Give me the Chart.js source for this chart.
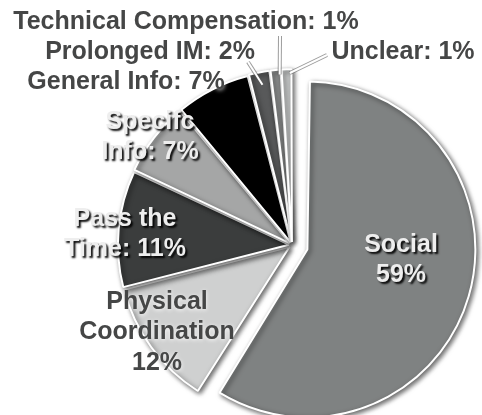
<!DOCTYPE html>
<html>
<head>
<meta charset="utf-8">
<script src="https://cdn.jsdelivr.net/npm/chart.js@4.4.1/dist/chart.umd.min.js"></script>
<style>
  body { margin: 0; background: #fff; }
  #wrap { width: 482px; height: 415px; position: relative; }
</style>
</head>
<body>
<div id="wrap"><canvas id="grafico"></canvas></div>
<script>
const categorias = ['Social', 'Physical Coordination', 'Pass the Time', 'Specific Info', 'General Info', 'Prolonged IM', 'Technical Compensation', 'Unclear'];
const porcentajes = [59, 12, 11, 7, 7, 2, 1, 1];
const etiquetas = [
  ['Social', '59%'],
  ['Physical', 'Coordination', '12%'],
  ['Pass the', 'Time: 11%'],
  ['Specifc', 'Info: 7%'],
  ['General Info: 7%'],
  ['Prolonged IM: 2%'],
  ['Technical Compensation: 1%'],
  ['Unclear: 1%']
];

const colores = ['#7f8282', '#cfd0d0', '#3b3d3d', '#a5a6a6', '#000000', '#58595a', '#8d8f8f', '#c6c8c8'];
// chart.js v4 divide el offset entre 4
const separacion = [64, 12, 12, 12, 12, 12, 12, 12];

// donde va cada etiqueta (centro del texto) y su estilo
const posEtiquetas = [
  { x: 401, y: 245, claro: true },
  { x: 157, y: 302, claro: false },
  { x: 125, y: 219, claro: true },
  { x: 150, y: 122, claro: true },
  { x: 126, y: 82, claro: false },
  { x: 150, y: 52, claro: false, linea: [248, 62], frac: 0.55, r: 163 },
  { x: 186, y: 22, claro: false, linea: [280, 36], frac: 0.85, r: 171 },
  { x: 403, y: 52, claro: false, linea: [327, 55], frac: 0.8, r: 172 }
];

// el offset tambien agranda la rebanada grande, se lo quitamos
const radioSocial = {
  id: 'radioSocial',
  afterDatasetUpdate(chart, args) {
    const arc = args.meta.data[0];
    if (arc) arc.outerRadius = arc.outerRadius - 18;
  }
};

const sombraPastel = {
  id: 'sombraPastel',
  beforeDatasetsDraw(chart) {
    const ctx = chart.ctx;
    ctx.save();
    ctx.shadowColor = 'rgba(0,0,0,0.6)';
    ctx.shadowBlur = 5;
    ctx.shadowOffsetX = 2;
    ctx.shadowOffsetY = 2;
  },
  afterDatasetsDraw(chart) {
    chart.ctx.restore();
  }
};

const textos = {
  id: 'textos',
  afterDraw(chart) {
    const ctx = chart.ctx;
    const arcos = chart.getDatasetMeta(0).data;
    ctx.save();
    // lineas guia para las rebanadas chicas
    posEtiquetas.forEach((p, i) => {
      if (!p.linea) return;
      const a = arcos[i];
      const ang = a.startAngle + (a.endAngle - a.startAngle) * p.frac;
      const x2 = a.x + Math.cos(ang) * p.r;
      const y2 = a.y + Math.sin(ang) * p.r;
      ctx.lineCap = 'butt';
      ctx.strokeStyle = 'rgba(90,90,90,0.6)';
      ctx.lineWidth = 4;
      ctx.beginPath();
      ctx.moveTo(p.linea[0], p.linea[1]);
      ctx.lineTo(x2, y2);
      ctx.stroke();
      ctx.strokeStyle = '#ffffff';
      ctx.lineWidth = 2;
      ctx.stroke();
    });

    ctx.font = 'bold 25px "Liberation Sans", Arial, sans-serif';
    ctx.textAlign = 'center';
    ctx.textBaseline = 'middle';
    etiquetas.forEach((lineas, i) => {
      const p = posEtiquetas[i];
      lineas.forEach((t, j) => {
        const y = p.y + j * 30.5;
        if (p.claro) {
          ctx.shadowColor = 'rgba(0,0,0,0.95)';
          ctx.shadowBlur = 2;
          ctx.shadowOffsetX = 2;
          ctx.shadowOffsetY = 2;
          ctx.fillStyle = '#eeeeee';
        } else {
          ctx.shadowColor = 'rgba(255,255,255,0.95)';
          ctx.shadowBlur = 4;
          ctx.shadowOffsetX = 0;
          ctx.shadowOffsetY = 1;
          ctx.fillStyle = '#454646';
        }
        ctx.fillText(t, p.x, y);
      });
    });
    ctx.restore();
  }
};

new Chart(document.getElementById('grafico').getContext('2d'), {
  type: 'pie',
  data: {
    labels: categorias,
    datasets: [{
      data: porcentajes,
      backgroundColor: colores,
      borderColor: '#ffffff',
      borderWidth: 2,
      offset: separacion,
      clip: false
    }]
  },
  options: {
    responsive: true,
    maintainAspectRatio: false,
    animation: false,
    radius: 170,
    layout: { padding: { left: 102, top: 75, right: 0, bottom: 0 } },
    plugins: {
      legend: { display: false },
      tooltip: { enabled: false }
    }
  },
  plugins: [radioSocial, sombraPastel, textos]
});
</script>
</body>
</html>
